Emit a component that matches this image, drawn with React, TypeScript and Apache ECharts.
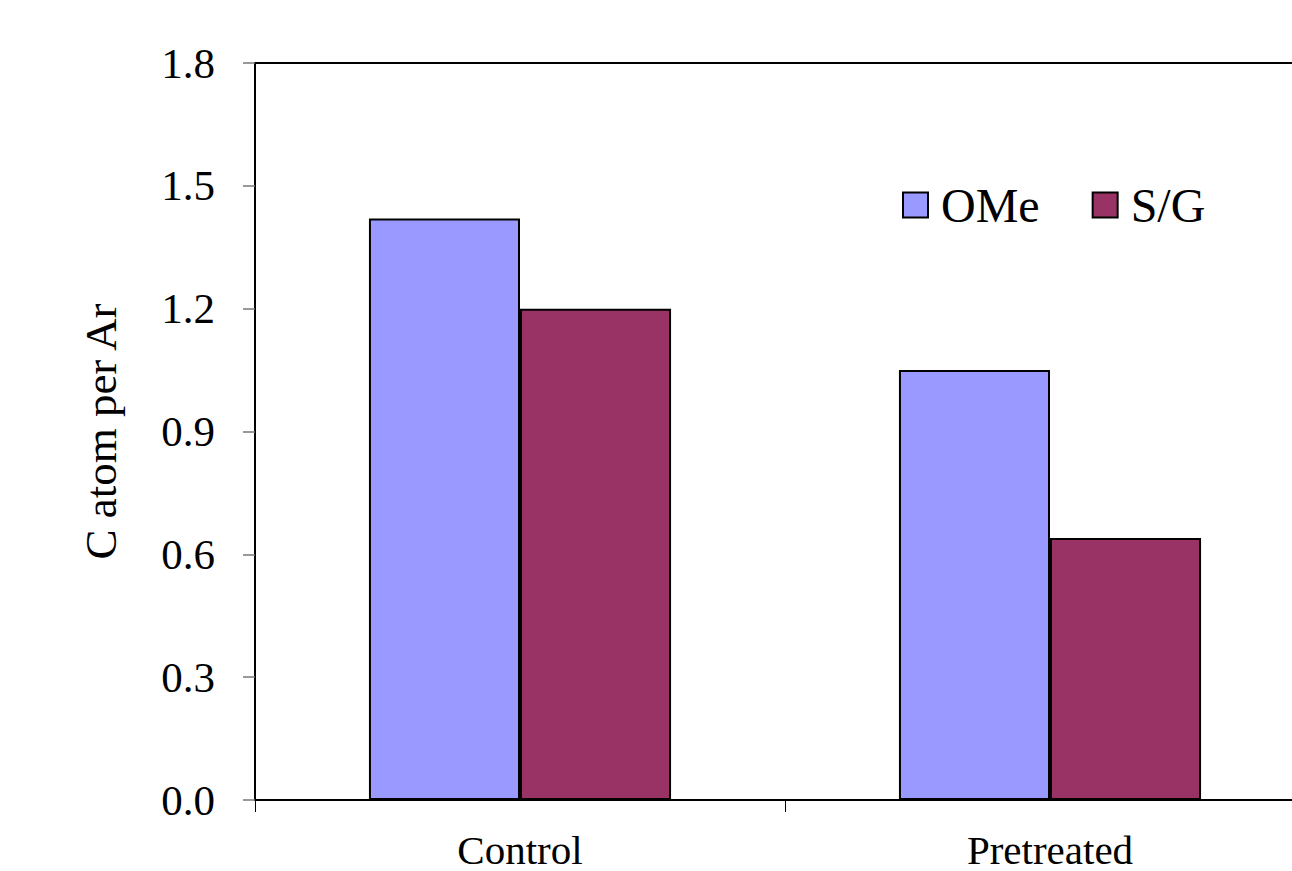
import React, { useEffect, useRef } from "react";
import * as echarts from "echarts";

const categories = ["Control", "Pretreated"];
const omeValues = [1.42, 1.05];
const sgValues = [1.2, 0.64];
const yTicks = { min: 0, max: 1.8, interval: 0.3 };

const FONT = "'Liberation Serif', 'Times New Roman', serif";

export default function App() {
  const ref = useRef<HTMLDivElement>(null);

  useEffect(() => {
    if (!ref.current) return;
    const chart = echarts.init(ref.current, null, { renderer: "svg" });
    chart.setOption({
      animation: false,
      backgroundColor: "#ffffff",
      textStyle: { fontFamily: FONT, color: "#000" },
      grid: {
        left: 255,
        top: 63,
        width: 1060,
        bottom: 71,
        show: true,
        borderColor: "#000",
        borderWidth: 2,
        backgroundColor: "transparent",
      },
      legend: {
        left: 897,
        top: 176,
        itemWidth: 25,
        itemHeight: 25,
        itemGap: 52,
        icon: "rect",
        textStyle: { fontFamily: FONT, fontSize: 48, color: "#000", padding: [0, 0, 0, 8] },
        data: ["OMe", "S/G"],
      },
      xAxis: {
        type: "category",
        data: categories,
        axisLine: { show: true, lineStyle: { color: "#000", width: 2 } },
        axisTick: { show: true, length: 12, lineStyle: { color: "#000", width: 1 } },
        axisLabel: { fontFamily: FONT, fontSize: 41, lineHeight: 41, color: "#000", margin: 29 },
      },
      yAxis: {
        type: "value",
        min: yTicks.min,
        max: yTicks.max,
        interval: yTicks.interval,
        name: "C atom per Ar",
        nameLocation: "middle",
        nameRotate: 90,
        nameGap: 132,
        nameTextStyle: { fontFamily: FONT, fontSize: 45, color: "#000" },
        axisLine: { show: true, lineStyle: { color: "#000", width: 2 } },
        axisTick: { show: true, inside: false, length: 12, lineStyle: { color: "#777", width: 1.5 } },
        splitLine: { show: false },
        axisLabel: {
          fontFamily: FONT,
          fontSize: 43,
          color: "#000",
          margin: 40,
          formatter: (v: number) => v.toFixed(1),
        },
      },
      series: [
        {
          name: "OMe",
          type: "bar",
          data: omeValues,
          barGap: "0%",
          barCategoryGap: "43%",
          itemStyle: { color: "#9999FF", borderColor: "#000", borderWidth: 2 },
        },
        {
          name: "S/G",
          type: "bar",
          data: sgValues,
          barGap: "0%",
          barCategoryGap: "43%",
          itemStyle: { color: "#993366", borderColor: "#000", borderWidth: 2 },
        },
      ],
    });
    return () => chart.dispose();
  }, []);

  return (
    <div
      style={{
        position: "fixed",
        left: 0,
        top: 0,
        width: 1292,
        height: 871,
        overflow: "hidden",
        background: "#fff",
      }}
    >
      <div ref={ref} style={{ width: 1340, height: 871 }} />
    </div>
  );
}
